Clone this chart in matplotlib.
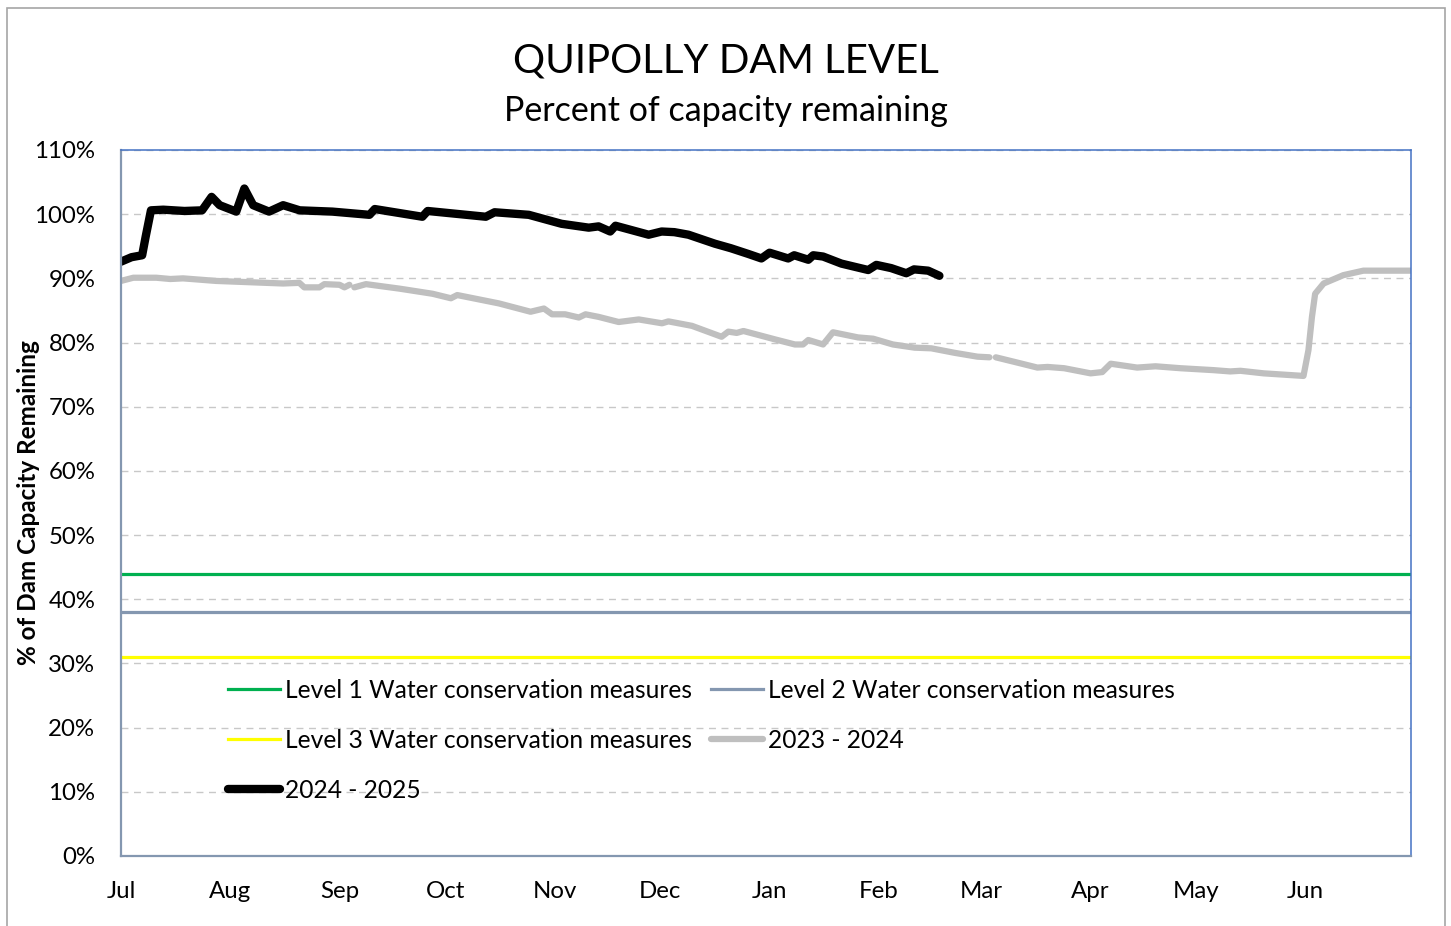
import matplotlib
matplotlib.use("Agg")
import matplotlib.pyplot as plt
import numpy as np
from matplotlib.patches import Rectangle

plt.rcParams['font.family'] = ['Lato', 'DejaVu Sans']

# x axis: days since 1 July
month_labels = ['Jul', 'Aug', 'Sep', 'Oct', 'Nov', 'Dec', 'Jan', 'Feb', 'Mar', 'Apr', 'May', 'Jun']
month_starts = [0, 31, 62, 92, 123, 153, 184, 215, 244, 275, 305, 336]

# trigger levels (%)
level1 = 44
level2 = 38
level3 = 31

# 2024 - 2025 season
days_2425 = [0, 3, 6, 7, 8.5, 12, 18, 23, 25.7, 28, 32.7, 35, 37.5, 42, 46, 50.7, 60, 70.5, 72,
             85.5, 87, 103.5, 106, 115.7, 121, 125, 132.7, 135.5, 138.8, 140.3, 149.7, 153.4,
             157, 161, 168.5, 173, 178, 181.7, 184, 189.3, 191, 195, 196.4, 199.2, 204.4, 212,
             214.3, 218.5, 222.8, 225, 229, 232.2]
level_2425 = [92.6, 93.3, 93.6, 96.5, 100.6, 100.7, 100.5, 100.6, 102.7, 101.4, 100.4, 104.0,
              101.4, 100.4, 101.4, 100.6, 100.4, 99.9, 100.8, 99.6, 100.5, 99.6, 100.3, 99.9,
              99.1, 98.5, 97.9, 98.1, 97.3, 98.2, 96.8, 97.3, 97.2, 96.8, 95.4, 94.7, 93.8,
              93.1, 94.0, 93.1, 93.6, 92.9, 93.6, 93.4, 92.3, 91.3, 92.1, 91.6, 90.8, 91.4,
              91.2, 90.4]

# 2023 - 2024 season (nan = missing readings)
days_2324 = [0, 3.5, 10, 14, 17.6, 27, 36.5, 46, 50.6, 52, 56.3, 57.7, 62, 63.4, 64.8, 65.5,
             66.2, 69.5, 79, 88.4, 93.6, 95.4, 107.2, 116.2, 120, 122.3, 126, 129.9, 131.8,
             135.5, 141.2, 146.9, 153.5, 155.3, 162, 170.4, 172.3, 174.7, 176.6, 185.5, 191.2,
             193.5, 195, 199.2, 202, 209.1, 213.4, 219, 225.2, 229.9, 236.5, 243, 246.4, 247.3,
             248.2, 253.4, 260, 262.9, 267.6, 275.1, 278.4, 280.8, 288.3, 293.5, 300.6, 310,
             314.7, 317.6, 324.2, 335.5, 336.9, 337.9, 338.8, 341.2, 346.8, 352.5, 357.2, 366]
level_2324 = [89.6, 90.1, 90.1, 89.9, 90.0, 89.6, 89.4, 89.2, 89.3, 88.6, 88.6, 89.1, 89.0,
              88.6, 89.0, np.nan, 88.6, 89.1, 88.4, 87.6, 86.9, 87.4, 86.1, 84.8, 85.3, 84.4,
              84.4, 83.9, 84.4, 84.0, 83.2, 83.6, 83.0, 83.3, 82.6, 80.9, 81.7, 81.5, 81.8,
              80.5, 79.7, 79.7, 80.4, 79.7, 81.6, 80.8, 80.6, 79.7, 79.2, 79.1, 78.4, 77.8,
              77.7, np.nan, 77.7, 77.0, 76.1, 76.2, 76.0, 75.2, 75.4, 76.7, 76.1, 76.3, 76.0,
              75.7, 75.5, 75.6, 75.2, 74.8, 78.8, 84.0, 87.6, 89.2, 90.5, 91.2, 91.2, 91.2]

fig = plt.figure(figsize=(14.51, 9.26), dpi=100)
ax = fig.add_axes([121 / 1451, 1 - 856 / 926, 1290 / 1451, 706 / 926])

# outer chart border
fig.patches.append(Rectangle((7 / 1451, -0.02), 1438 / 1451, 1.0115, transform=fig.transFigure,
                             fill=False, edgecolor='#a6a6a6', linewidth=1.2))

l1, = ax.plot([0, 366], [level1, level1], color='#00b050', lw=2.3, label='Level 1 Water conservation measures')
l2, = ax.plot([0, 366], [level2, level2], color='#8497b0', lw=2.3, label='Level 2 Water conservation measures')
l3, = ax.plot([0, 366], [level3, level3], color='#ffff00', lw=2.3, label='Level 3 Water conservation measures')
g, = ax.plot(days_2324, level_2324, color='#bfbfbf', lw=4.5, solid_capstyle='round',
             solid_joinstyle='round', label='2023 - 2024')
b, = ax.plot(days_2425, level_2425, color='black', lw=6, solid_capstyle='round',
             solid_joinstyle='round', label='2024 - 2025')

ax.set_xlim(0, 366)
ax.set_ylim(0, 110)
ax.set_xticks(month_starts)
ax.set_xticklabels(month_labels)
ax.set_yticks(np.arange(0, 111, 10))
ax.set_yticklabels([f'{v}%' for v in range(0, 111, 10)])
ax.tick_params(axis='both', length=0, labelsize=17.3)
ax.tick_params(axis='y', pad=18.5)
ax.tick_params(axis='x', pad=18)

ax.grid(axis='y', color='#c8c8c8', linestyle=(0, (5, 4)), linewidth=1)
ax.set_axisbelow(True)

for side in ['left', 'bottom']:
    ax.spines[side].set_color('#8497b0')
    ax.spines[side].set_linewidth(1.6)
for side in ['top', 'right']:
    ax.spines[side].set_color('#4472c4')
    ax.spines[side].set_linewidth(1.1)

ax.set_ylabel('% of Dam Capacity Remaining', fontsize=17.5, fontweight='bold')
ax.yaxis.set_label_coords((40 - 121) / 1290, 0.5)

fig.text(0.5, 1 - 61 / 926, 'QUIPOLLY DAM LEVEL', ha='center', va='center', fontsize=29)
fig.text(0.5, 1 - 111 / 926, 'Percent of capacity remaining', ha='center', va='center', fontsize=24.5)

ax.legend(handles=[l1, l3, b, l2, g], ncol=2, loc='upper left', frameon=False,
          bbox_to_anchor=((228 - 121) / 1290, (856 - 679) / 706), borderaxespad=0, borderpad=0,
          fontsize=17.7, handlelength=2.1, handletextpad=0.2, columnspacing=0.8,
          labelspacing=1.1)

fig.savefig('out.png', dpi=100)
